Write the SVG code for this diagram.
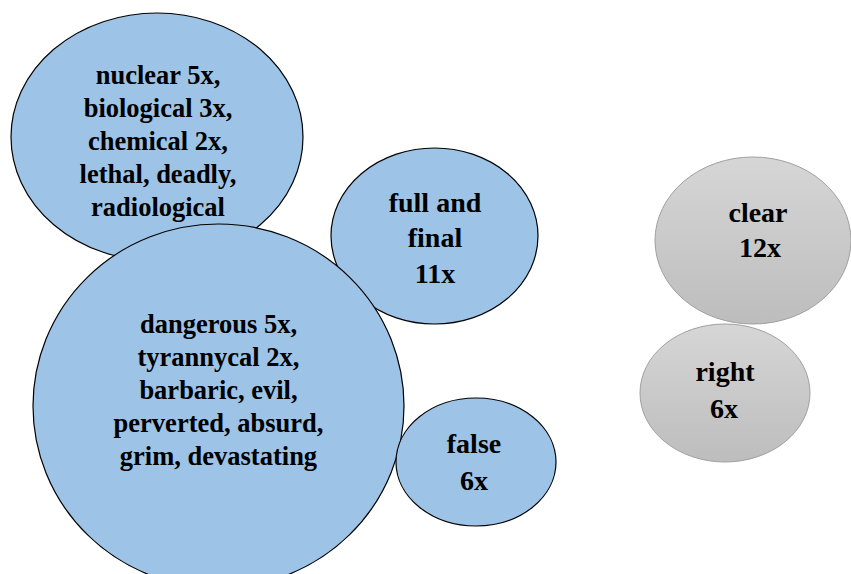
<svg xmlns="http://www.w3.org/2000/svg" width="851" height="574" viewBox="0 0 851 574">
  <defs>
    <linearGradient id="grayFill" x1="0" y1="0" x2="0" y2="1">
      <stop offset="0" stop-color="#d6d6d6"/>
      <stop offset="1" stop-color="#bdbdbd"/>
    </linearGradient>
  </defs>
  <style>
    .blue { fill: #9dc3e6; stroke: #000; stroke-width: 1.2; }
    .gray { fill: url(#grayFill); stroke: #a0a0a0; stroke-width: 1; }
    text { font-family: 'Liberation Serif', Times, 'DejaVu Serif', serif; font-weight: bold; fill: #000; text-anchor: middle; }
    .big { font-size: 26.5px; }
    .small { font-size: 28px; }
  </style>
  <rect width="851" height="574" fill="#fff"/>
  <g id="connectors"/>

  <g id="weapons">
    <ellipse class="blue" cx="157" cy="137" rx="146" ry="124"/>
    <text class="big" x="158" y="84">nuclear 5x,</text>
    <text class="big" x="158" y="117">biological 3x,</text>
    <text class="big" x="158" y="150">chemical 2x,</text>
    <text class="big" x="158" y="183">lethal, deadly,</text>
    <text class="big" x="158" y="216">radiological</text>
  </g>

  <g id="full-and-final">
    <ellipse class="blue" cx="434.5" cy="236" rx="103.5" ry="88"/>
    <text class="small" x="435" y="212">full and</text>
    <text class="small" x="435" y="247">final</text>
    <text class="small" x="435" y="283">11x</text>
  </g>

  <g id="dangerous">
    <ellipse class="blue" cx="218.5" cy="406" rx="185.5" ry="182"/>
    <text class="big" x="218.5" y="333">dangerous 5x,</text>
    <text class="big" x="218.5" y="366">tyrannycal 2x,</text>
    <text class="big" x="218.5" y="399">barbaric, evil,</text>
    <text class="big" x="218.5" y="432">perverted, absurd,</text>
    <text class="big" x="218.5" y="465">grim, devastating</text>
  </g>

  <g id="false">
    <ellipse class="blue" cx="476" cy="462" rx="80" ry="64"/>
    <text class="small" x="474" y="453">false</text>
    <text class="small" x="474" y="490">6x</text>
  </g>

  <g id="clear">
    <ellipse class="gray" cx="753" cy="240.5" rx="98" ry="83.5"/>
    <text class="small" x="758" y="222">clear</text>
    <text class="small" x="760" y="257">12x</text>
  </g>

  <g id="right">
    <ellipse class="gray" cx="725" cy="393" rx="85" ry="69"/>
    <text class="small" x="725" y="381">right</text>
    <text class="small" x="724" y="418">6x</text>
  </g>
</svg>
